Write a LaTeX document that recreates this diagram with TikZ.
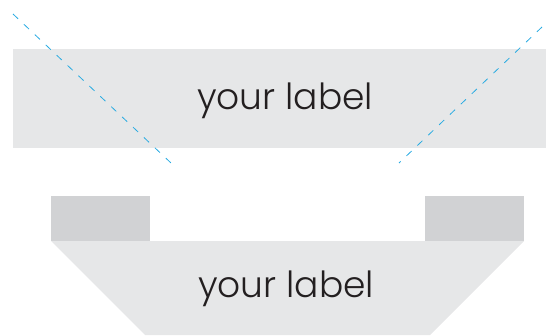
\documentclass[tikz,border=0pt]{standalone}
\usepackage{fontspec}
\IfFontExistsTF{Poppins Light}{\setmainfont{Poppins Light}}{\setmainfont{Poppins}}
\definecolor{lightbox}{HTML}{E6E7E8}
\definecolor{darkbox}{HTML}{D1D2D4}
\definecolor{guide}{HTML}{29ABE2}
\definecolor{labeltext}{HTML}{231F20}
\tikzset{
  lbl/.style={anchor=base, text=labeltext, inner sep=0pt, font=\fontsize{36}{42}\selectfont},
  guideline/.style={draw=guide, line width=0.8pt, dash pattern=on 7pt off 8pt}
}
\begin{document}
\begin{tikzpicture}[x=1pt,y=1pt]
\useasboundingbox (0,0) rectangle (546,335);
% top band
\fill[lightbox] (13,286) rectangle (546,187);
% bottom trapezoid
\fill[lightbox] (51,94) -- (524,94) -- (430,0) -- (145,0) -- cycle;
% small blocks
\fill[darkbox] (51,139) rectangle (150,94);
\fill[darkbox] (425,139) rectangle (524,94);
% dashed guides
\coordinate (g1a) at (13,321);
\coordinate (g1b) at (171,172);
\coordinate (g2a) at (542,308);
\coordinate (g2b) at (399,172);
\draw[guideline] (g1a) -- (g1b);
\draw[guideline] (g2a) -- (g2b);
% labels
\node[lbl] (toplabel) at (285,225) {your label};
\node[lbl] (botlabel) at (286,38) {your label};
\end{tikzpicture}
\end{document}
